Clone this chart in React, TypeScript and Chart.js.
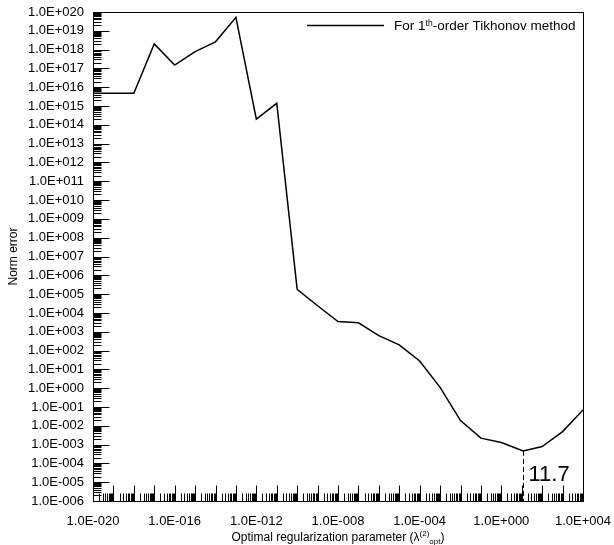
import { useEffect, useRef } from 'react';
import { Chart, registerables } from 'chart.js';

Chart.register(...registerables);

// Regularization parameter λ (log-spaced decades plus the optimum)
const lambdas = [
  1e-20, 1e-19, 1e-18, 1e-17, 1e-16, 1e-15, 1e-14, 1e-13, 1e-12, 1e-11,
  1e-10, 1e-9, 1e-8, 1e-7, 1e-6, 1e-5, 1e-4, 1e-3, 1e-2, 1e-1,
  1, 11.7, 100, 1000, 1e4,
];

// Norm error for the 1st-order Tikhonov solution at each λ
const normErrors = [
  4.8e15, 4.8e15, 4.8e15, 2.0e18, 1.5e17, 7.8e17, 2.6e18, 5.2e19, 2.0e14, 1.4e15,
  1.8e5, 2.4e4, 3.5e3, 3.0e3, 6.2e2, 2.0e2, 2.8e1, 1.1, 1.9e-2, 2.2e-3,
  1.3e-3, 4.6e-4, 7.8e-4, 4.9e-3, 6.9e-2,
];

// Exponents of the labelled ticks on each axis
const xLabelExponents = [-20, -16, -12, -8, -4, 0, 4];
const yLabelExponents = [
  -6, -5, -4, -3, -2, -1, 0, 1, 2, 3, 4, 5, 6, 7, 8, 9, 10,
  11, 12, 13, 14, 15, 16, 17, 18, 19, 20,
];

const optimumLambda = 11.7;
const optimumLabel = '11.7';
const seriesName = ['For 1', 'th', '-order Tikhonov method'];
const yTitle = 'Norm error';
const xTitleParts = ['Optimal regularization parameter (λ', '(2)', 'opt', ')'];

const FONT = '"Liberation Sans", Arial, sans-serif';

const sci = (e: number) =>
  `1.0E${e < 0 ? '-' : '+'}${String(Math.abs(e)).padStart(3, '0')}`;

const decorations = {
  id: 'decorations',
  afterDatasetsDraw(chart: any) {
    const { ctx, chartArea: a, scales } = chart;
    const xs = scales.x;
    const ys = scales.y;
    const left = Math.round(a.left) + 0.5;
    const right = Math.round(a.right) + 0.5;
    const top = Math.round(a.top) + 0.5;
    const bottom = Math.round(a.bottom) + 0.5;

    ctx.save();
    ctx.strokeStyle = '#000';
    ctx.lineWidth = 1;

    // inward tick marks on the bottom axis
    const xMin = xLabelExponents[0];
    const xMax = xLabelExponents[xLabelExponents.length - 1];
    ctx.beginPath();
    for (let e = xMin; e <= xMax; e++) {
      const px = Math.round(xs.getPixelForValue(Math.pow(10, e))) + 0.5;
      ctx.moveTo(px, bottom);
      ctx.lineTo(px, bottom - 16);
      if (e < xMax) {
        for (let k = 2; k <= 9; k++) {
          const mx = Math.round(xs.getPixelForValue(k * Math.pow(10, e))) + 0.5;
          ctx.moveTo(mx, bottom);
          ctx.lineTo(mx, bottom - 8);
        }
      }
    }
    // inward tick marks on the left axis
    const yMin = yLabelExponents[0];
    const yMax = yLabelExponents[yLabelExponents.length - 1];
    for (let e = yMin; e <= yMax; e++) {
      const py = Math.round(ys.getPixelForValue(Math.pow(10, e))) + 0.5;
      ctx.moveTo(left, py);
      ctx.lineTo(left + 16, py);
      if (e < yMax) {
        for (let k = 2; k <= 9; k++) {
          const my = Math.round(ys.getPixelForValue(k * Math.pow(10, e))) + 0.5;
          ctx.moveTo(left, my);
          ctx.lineTo(left + 8, my);
        }
      }
    }
    ctx.stroke();

    // frame
    ctx.strokeRect(left, top, right - left, bottom - top);

    // dashed marker at the optimum
    const oi = lambdas.indexOf(optimumLambda);
    const ox = Math.round(xs.getPixelForValue(optimumLambda)) + 0.5;
    const oy = ys.getPixelForValue(normErrors[oi]);
    ctx.setLineDash([5, 3]);
    ctx.beginPath();
    ctx.moveTo(ox, oy);
    ctx.lineTo(ox, bottom);
    ctx.stroke();
    ctx.setLineDash([]);

    ctx.fillStyle = '#000';
    ctx.font = `22px ${FONT}`;
    ctx.textAlign = 'left';
    ctx.textBaseline = 'alphabetic';
    ctx.fillText(optimumLabel, ox + 5, bottom - 21);

    // legend
    const big = `13.5px ${FONT}`;
    const small = `8.5px ${FONT}`;
    ctx.font = big;
    const w0 = ctx.measureText(seriesName[0]).width;
    const w2 = ctx.measureText(seriesName[2]).width;
    ctx.font = small;
    const w1 = ctx.measureText(seriesName[1]).width;
    const textRight = right - 8;
    const textLeft = textRight - (w0 + w1 + w2);
    const ly = top + 13;
    ctx.lineWidth = 1.5;
    ctx.beginPath();
    ctx.moveTo(textLeft - 87, ly);
    ctx.lineTo(textLeft - 10, ly);
    ctx.stroke();
    ctx.font = big;
    ctx.fillText(seriesName[0], textLeft, ly + 4.5);
    ctx.font = small;
    ctx.fillText(seriesName[1], textLeft + w0, ly);
    ctx.font = big;
    ctx.fillText(seriesName[2], textLeft + w0 + w1, ly + 4.5);

    // y-axis title
    ctx.save();
    ctx.translate(17, (a.top + a.bottom) / 2);
    ctx.rotate(-Math.PI / 2);
    ctx.font = `12px ${FONT}`;
    ctx.textAlign = 'center';
    ctx.fillText(yTitle, 0, 0);
    ctx.restore();

    // x-axis title with super/subscripts
    const tf = `12px ${FONT}`;
    const sf = `8px ${FONT}`;
    ctx.font = tf;
    const t0 = ctx.measureText(xTitleParts[0]).width;
    const t3 = ctx.measureText(xTitleParts[3]).width;
    ctx.font = sf;
    const t1 = ctx.measureText(xTitleParts[1]).width;
    const t2 = ctx.measureText(xTitleParts[2]).width;
    const total = t0 + t1 + t2 + t3;
    let tx = (a.left + a.right) / 2 - total / 2;
    const tb = 541;
    ctx.textAlign = 'left';
    ctx.font = tf;
    ctx.fillText(xTitleParts[0], tx, tb);
    tx += t0;
    ctx.font = sf;
    ctx.fillText(xTitleParts[1], tx, tb - 5);
    tx += t1;
    ctx.fillText(xTitleParts[2], tx, tb + 3);
    tx += t2;
    ctx.font = tf;
    ctx.fillText(xTitleParts[3], tx, tb);

    ctx.restore();
  },
};

export default function App() {
  const canvasRef = useRef<HTMLCanvasElement | null>(null);

  useEffect(() => {
    const canvas = canvasRef.current;
    if (!canvas) return;
    const chart = new Chart(canvas, {
      type: 'line',
      data: {
        datasets: [
          {
            label: seriesName.join(''),
            data: lambdas.map((x, i) => ({ x, y: normErrors[i] })),
            borderColor: '#000',
            borderWidth: 1.5,
            pointRadius: 0,
            tension: 0,
            fill: false,
          },
        ],
      },
      options: {
        animation: false,
        responsive: false,
        maintainAspectRatio: false,
        events: [],
        layout: { padding: { top: 12, right: 31, left: 0, bottom: 0 } },
        plugins: {
          legend: { display: false },
          tooltip: { enabled: false },
        },
        scales: {
          x: {
            type: 'logarithmic',
            min: Math.pow(10, xLabelExponents[0]),
            max: Math.pow(10, xLabelExponents[xLabelExponents.length - 1]),
            grid: { display: false, drawTicks: false },
            border: { display: false },
            afterBuildTicks: (scale: any) => {
              scale.ticks = xLabelExponents.map((e) => ({ value: Math.pow(10, e) }));
            },
            afterFit: (scale: any) => {
              scale.height = 44;
              scale.paddingLeft = 0;
              scale.paddingRight = 0;
            },
            ticks: {
              autoSkip: false,
              maxRotation: 0,
              minRotation: 0,
              padding: 13,
              color: '#000',
              font: { family: FONT, size: 13 },
              callback: (v: any) => sci(Math.round(Math.log10(Number(v)))),
            },
          },
          y: {
            type: 'logarithmic',
            min: Math.pow(10, yLabelExponents[0]),
            max: Math.pow(10, yLabelExponents[yLabelExponents.length - 1]),
            grid: { display: false, drawTicks: false },
            border: { display: false },
            afterBuildTicks: (scale: any) => {
              scale.ticks = yLabelExponents.map((e) => ({ value: Math.pow(10, e) }));
            },
            afterFit: (scale: any) => {
              scale.width = 93;
              scale.paddingTop = 0;
              scale.paddingBottom = 0;
            },
            ticks: {
              autoSkip: false,
              padding: 9,
              color: '#000',
              font: { family: FONT, size: 13 },
              callback: (v: any) => sci(Math.round(Math.log10(Number(v)))),
            },
          },
        },
      },
      plugins: [decorations],
    });
    return () => chart.destroy();
  }, []);

  return (
    <div style={{ position: 'fixed', left: 0, top: 0, width: 614, height: 545, background: '#fff' }}>
      <canvas ref={canvasRef} width={614} height={545} style={{ width: 614, height: 545 }} />
    </div>
  );
}
